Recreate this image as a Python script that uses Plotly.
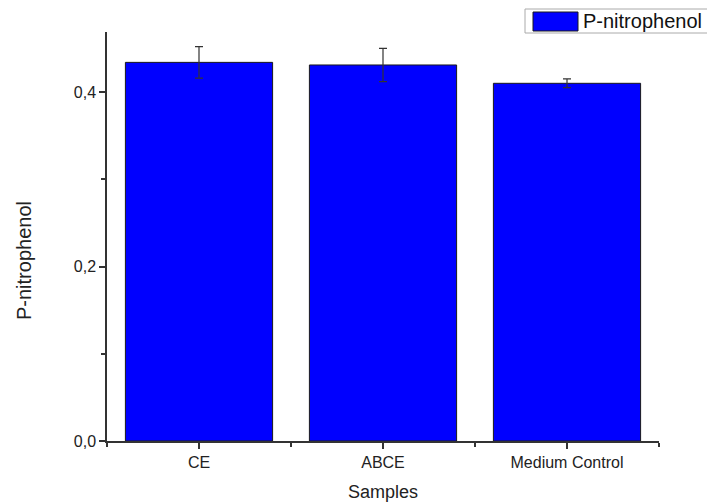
import plotly.graph_objects as go

categories = ["CE", "ABCE", "Medium Control"]
values = [0.434, 0.431, 0.410]
errors = [0.018, 0.019, 0.005]
series_name = "P-nitrophenol"
y_ticks = [0.0, 0.2, 0.4]
y_ticklabels = ["0,0", "0,2", "0,4"]

xpos = list(range(len(categories)))

fig = go.Figure()
fig.add_trace(go.Bar(
    x=xpos, y=values, width=0.8, name=series_name,
    marker=dict(color="#0000FF", line=dict(color="#1a1a1a", width=1)),
    error_y=dict(type="data", array=errors, visible=True, color="#333333",
                 thickness=1.2, width=4),
    showlegend=False,
))

font_family = "Liberation Sans, Arial, sans-serif"
fig.update_layout(
    width=707, height=502,
    margin=dict(l=107, r=48, t=32, b=61),
    paper_bgcolor="white", plot_bgcolor="white",
    font=dict(family=font_family, color="#222222"),
    xaxis=dict(
        range=[-0.5, 2.5], tickmode="array", tickvals=xpos, ticktext=categories,
        automargin=False,
        showline=True, linecolor="#333333", linewidth=1.5, showgrid=False, zeroline=False,
        ticks="outside", ticklen=6, tickcolor="#333333", tickwidth=1.5,
        tickfont=dict(size=16, family=font_family, color="#222222"),
        minor=dict(ticks="outside", tick0=0.5, dtick=1, ticklen=4, tickcolor="#333333", tickwidth=1.5, showgrid=False),
        title=dict(text="Samples", font=dict(size=18, family=font_family, color="#222222"), standoff=20),
    ),
    yaxis=dict(
        range=[0, 0.4688], tickmode="array", tickvals=y_ticks, ticktext=y_ticklabels,
        automargin=False,
        showline=True, linecolor="#333333", linewidth=1.5, showgrid=False, zeroline=False,
        ticks="outside", ticklen=6, tickcolor="#333333", tickwidth=1.5,
        tickfont=dict(size=16, family=font_family, color="#222222"),
        minor=dict(ticks="outside", tickvals=[0.1, 0.3], ticklen=4, tickcolor="#333333", tickwidth=1.5, showgrid=False),
    ),
)

# y-axis title (placed off-centre as in the reference)
fig.add_annotation(xref="paper", yref="paper", x=(24 - 107) / 552, y=(441 - 261) / 409,
                   xanchor="center", yanchor="middle", showarrow=False, textangle=-90,
                   text=series_name, font=dict(size=20, family=font_family, color="#222222"))

# legend box drawn manually to match the large swatch
fig.add_shape(type="rect", xref="paper", yref="paper",
              x0=(525 - 107) / 552, x1=(712 - 107) / 552,
              y0=(441 - 33) / 409, y1=(441 - 9) / 409,
              line=dict(color="#aaaaaa", width=1), fillcolor="white")
fig.add_shape(type="rect", xref="paper", yref="paper",
              x0=(533 - 107) / 552, x1=(578 - 107) / 552,
              y0=(441 - 31) / 409, y1=(441 - 12) / 409,
              line=dict(color="#1a1a1a", width=1), fillcolor="#0000FF")
fig.add_annotation(xref="paper", yref="paper", x=(581 - 107) / 552, y=(441 - 21) / 409,
                   xanchor="left", yanchor="middle", showarrow=False,
                   text=series_name, font=dict(size=20, family=font_family, color="#111111"))

fig.write_html("out.html")
